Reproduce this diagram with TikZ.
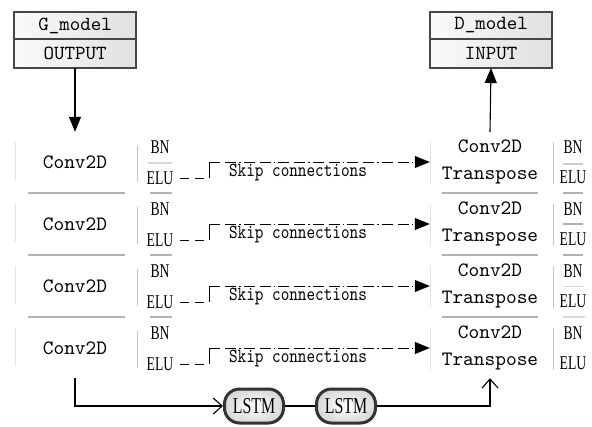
\documentclass[tikz,border=0pt]{standalone}
\usepackage{fontspec}
\usetikzlibrary{arrows.meta}
\setmainfont{Liberation Serif}
\newfontfamily\monofont{lmmono10-regular.otf}
\newfontfamily\skipfont[FakeStretch=0.82]{lmmono10-regular.otf}
\newfontfamily\condfont[FakeStretch=0.7]{Liberation Serif}
\begin{document}
\begin{tikzpicture}[x=1pt,y=-1pt,
  tabcell/.style={draw=white, line width=1pt, left color=gray!4, right color=gray!24,
    minimum width=122pt, minimum height=27pt, inner sep=0pt, outer sep=0pt,
    font=\monofont\fontsize{20}{20}\selectfont},
  tabframe/.style={draw=gray!55!black, line width=1.6pt},
  convblk/.style={minimum width=120pt, minimum height=60pt, inner sep=0pt,
    font=\monofont\fontsize{20.4}{27}\selectfont, align=center},
  bnlbl/.style={font=\condfont\fontsize{19.5}{20}\selectfont, inner sep=0pt},
  skiptext/.style={font=\skipfont\fontsize{20}{20}\selectfont, inner sep=0pt},
  lstmbox/.style={rounded corners=15pt, draw=gray!40!black, line width=3pt,
    inner color=white, outer color=gray!30, minimum width=59pt, minimum height=34pt,
    inner sep=0pt, font=\condfont\fontsize{22.7}{23}\selectfont},
  sepline/.style={gray!60, line width=1.5pt},
  lightsep/.style={gray!30, line width=2.5pt},
  faint/.style={gray!22, line width=0.8pt},
  divline/.style={gray!45, line width=1pt},
  skiplow/.style={line width=1pt, dash pattern=on 9pt off 6pt},
  skiphigh/.style={line width=1pt, dash pattern=on 11pt off 5pt on 11pt off 3pt on 1.5pt off 3pt},
  flow/.style={line width=1.1pt},
  filltip/.style={-{Triangle[length=15pt,width=12pt]}},
  opentip/.style={-{Straight Barb[length=9pt,width=16pt]}}
]
\useasboundingbox (0,0) rectangle (592,426);
\fill[white] (0,0) rectangle (592,426);

% generator output table
\node[tabcell] (gname) at (75,25.5) {G\_model};
\node[tabcell, minimum height=29pt] (gout) at (75,53.5) {OUTPUT};
\draw[tabframe] (gname.north west) rectangle (gout.south east);
\draw[tabframe] (gname.south west) -- (gname.south east);

% discriminator input table
\node[tabcell] (dname) at (491,25.5) {D\_model};
\node[tabcell, minimum height=29pt] (din) at (491,53.5) {INPUT};
\draw[tabframe] (dname.north west) rectangle (din.south east);
\draw[tabframe] (dname.south west) -- (dname.south east);

% encoder and decoder rows
\foreach \i/\y in {1/162,2/224,3/286,4/348} {
  \node[convblk] (c\i) at (75,\y) {Conv2D};
  \node[bnlbl] (lbn\i) at (160,{\y-15}) {BN};
  \node[bnlbl] (lelu\i) at (160,{\y+16}) {ELU};
  \node[convblk] (t\i) at (490,\y) {Conv2D\\Transpose};
  \node[bnlbl] (rbn\i) at (573,{\y-15}) {BN};
  \node[bnlbl] (relu\i) at (573,{\y+15}) {ELU};
  \draw[faint] (15,{\y-20}) -- (15,{\y+18});
  \draw[divline] (137,{\y-17}) -- (137,{\y+20});
  \draw[faint] (430,{\y-20}) -- (430,{\y+22});
  \draw[divline] (553,{\y-20}) -- (553,{\y+22});
  % skip connection
  \path ([xshift=7pt]lelu\i.east) coordinate (a\i) ++(29,0) coordinate (s\i);
  \draw[skiplow] (a\i) -- (s\i);
  \draw[line width=1pt] (s\i) -- (s\i |- t\i.west);
  \draw[skiphigh, filltip] (s\i |- t\i.west) -- (t\i.west);
  \node[skiptext] (sk\i) at (298,{\y+10}) {Skip connections};
}
\foreach \y in {162,224,286} {
  \draw[sepline] (28,{\y+31}) -- (125,{\y+31});
  \draw[sepline] (150,{\y+31}) -- (172,{\y+31});
  \draw[sepline] (442,{\y+31}) -- (538,{\y+31});
}
\draw[sepline] (563,193) -- (583,193);
\draw[sepline] (563,255) -- (583,255);
\draw[lightsep] (563,317) -- (585,317);
\draw[lightsep] (148,163) -- (172,163);
\draw[gray!40, line width=1.5pt] (563,164) -- (583,164);
\draw[sepline] (563,224) -- (583,224);
\draw[gray!30, line width=0.8pt] (563,286) -- (583,286);

% bottleneck
\node[lstmbox] (lstm1) at (254,406) {LSTM};
\node[lstmbox] (lstm2) at (346,406) {LSTM};

% connectors
\draw[flow, filltip] (gout.south) -- (c1.north);
\draw[flow, filltip] (t1.north) -- (din.south);
\draw[flow, opentip] (c4.south) |- (lstm1.west);
\draw[flow] (lstm1.east) -- (lstm2.west);
\draw[flow, opentip] (lstm2.east) -| (t4.south);
\end{tikzpicture}
\end{document}
